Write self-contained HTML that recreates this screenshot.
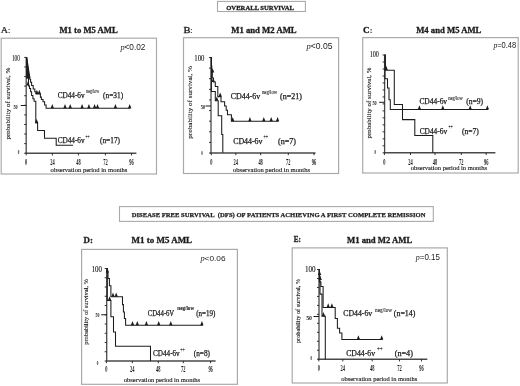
<!DOCTYPE html>
<html><head><meta charset="utf-8"><style>
html,body{margin:0;padding:0;background:#fff;}
body{width:520px;height:386px;overflow:hidden;}
svg{display:block;filter:blur(0.3px);}
</style></head><body>
<svg width="520" height="386" viewBox="0 0 520 386">
<rect width="520" height="386" fill="#fff"/>
<rect x="217.5" y="1.4" width="87.90" height="10.10" fill="none" stroke="#aaaaaa" stroke-width="1.1"/>
<text x="226.20" y="9.70" font-family='"Liberation Serif", serif' font-size="6.9" fill="#1c1c1c" font-weight="bold" stroke="#1c1c1c" stroke-width="0.3" textLength="67.80" lengthAdjust="spacingAndGlyphs">OVERALL SURVIVAL</text>
<text x="0.70" y="32.70" font-family='"Liberation Serif", serif' font-size="8.6" fill="#1c1c1c" stroke="#1c1c1c" stroke-width="0.2" textLength="7.30" lengthAdjust="spacingAndGlyphs">A</text>
<text x="7.90" y="32.70" font-family='"Liberation Serif", serif' font-size="8.4" fill="#1c1c1c" stroke="#1c1c1c" stroke-width="0.15">:</text>
<text x="59.40" y="33.00" font-family='"Liberation Serif", serif' font-size="8.3" fill="#1c1c1c" font-weight="bold" stroke="#1c1c1c" stroke-width="0.3" textLength="58.40" lengthAdjust="spacingAndGlyphs">M1 to M5 AML</text>
<text x="183.40" y="32.50" font-family='"Liberation Serif", serif' font-size="8.6" fill="#1c1c1c" stroke="#1c1c1c" stroke-width="0.3" textLength="7.00" lengthAdjust="spacingAndGlyphs">B</text>
<text x="190.20" y="32.50" font-family='"Liberation Serif", serif' font-size="8.4" fill="#1c1c1c" stroke="#1c1c1c" stroke-width="0.2">:</text>
<text x="231.20" y="32.80" font-family='"Liberation Serif", serif' font-size="8.3" fill="#1c1c1c" font-weight="bold" stroke="#1c1c1c" stroke-width="0.3" textLength="65.50" lengthAdjust="spacingAndGlyphs">M1 and M2 AML</text>
<text x="363.00" y="32.50" font-family='"Liberation Serif", serif' font-size="9.0" fill="#1c1c1c" font-weight="bold" stroke="#1c1c1c" stroke-width="0.3" textLength="6.60" lengthAdjust="spacingAndGlyphs">C</text>
<text x="369.80" y="32.50" font-family='"Liberation Serif", serif' font-size="8.2" fill="#1c1c1c" font-weight="bold">:</text>
<text x="416.20" y="33.00" font-family='"Liberation Serif", serif' font-size="8.3" fill="#1c1c1c" font-weight="bold" stroke="#1c1c1c" stroke-width="0.3" textLength="65.20" lengthAdjust="spacingAndGlyphs">M4 and M5 AML</text>
<rect x="1.2" y="38.2" width="155.30" height="135.80" fill="none" stroke="#aaaaaa" stroke-width="1.2"/>
<text x="120.40" y="49.50" fill="#1c1c1c" font-size="8.2" textLength="25.00" lengthAdjust="spacingAndGlyphs"><tspan font-family='"Liberation Serif", serif' font-style="italic">p</tspan><tspan font-family='"Liberation Sans", sans-serif'>&lt;0.02</tspan></text>
<line x1="26.20" y1="56.90" x2="26.20" y2="153.20" stroke="#4a4a4a" stroke-width="1.3"/>
<line x1="25.60" y1="153.20" x2="136.40" y2="153.20" stroke="#4a4a4a" stroke-width="1.5"/>
<line x1="24.20" y1="153.20" x2="26.20" y2="153.20" stroke="#1c1c1c" stroke-width="0.9"/>
<line x1="24.20" y1="143.62" x2="26.20" y2="143.62" stroke="#1c1c1c" stroke-width="0.9"/>
<line x1="24.20" y1="134.04" x2="26.20" y2="134.04" stroke="#1c1c1c" stroke-width="0.9"/>
<line x1="24.20" y1="124.46" x2="26.20" y2="124.46" stroke="#1c1c1c" stroke-width="0.9"/>
<line x1="24.20" y1="114.88" x2="26.20" y2="114.88" stroke="#1c1c1c" stroke-width="0.9"/>
<line x1="24.20" y1="105.30" x2="26.20" y2="105.30" stroke="#1c1c1c" stroke-width="0.9"/>
<line x1="24.20" y1="95.72" x2="26.20" y2="95.72" stroke="#1c1c1c" stroke-width="0.9"/>
<line x1="24.20" y1="86.14" x2="26.20" y2="86.14" stroke="#1c1c1c" stroke-width="0.9"/>
<line x1="24.20" y1="76.56" x2="26.20" y2="76.56" stroke="#1c1c1c" stroke-width="0.9"/>
<line x1="24.20" y1="66.98" x2="26.20" y2="66.98" stroke="#1c1c1c" stroke-width="0.9"/>
<line x1="24.20" y1="57.40" x2="26.20" y2="57.40" stroke="#1c1c1c" stroke-width="0.9"/>
<line x1="20.70" y1="105.50" x2="26.20" y2="105.50" stroke="#1c1c1c" stroke-width="1.0"/>
<line x1="26.20" y1="153.20" x2="26.20" y2="155.40" stroke="#1c1c1c" stroke-width="0.9"/>
<text x="25.10" y="164.70" font-family='"Liberation Serif", serif' font-size="7.8" fill="#1c1c1c" font-weight="bold" textLength="2.20" lengthAdjust="spacingAndGlyphs">0</text>
<line x1="52.40" y1="153.20" x2="52.40" y2="155.40" stroke="#1c1c1c" stroke-width="0.9"/>
<text x="50.20" y="164.70" font-family='"Liberation Serif", serif' font-size="7.8" fill="#1c1c1c" font-weight="bold" textLength="4.40" lengthAdjust="spacingAndGlyphs">24</text>
<line x1="78.40" y1="153.20" x2="78.40" y2="155.40" stroke="#1c1c1c" stroke-width="0.9"/>
<text x="76.20" y="164.70" font-family='"Liberation Serif", serif' font-size="7.8" fill="#1c1c1c" font-weight="bold" textLength="4.40" lengthAdjust="spacingAndGlyphs">48</text>
<line x1="105.40" y1="153.20" x2="105.40" y2="155.40" stroke="#1c1c1c" stroke-width="0.9"/>
<text x="103.20" y="164.70" font-family='"Liberation Serif", serif' font-size="7.8" fill="#1c1c1c" font-weight="bold" textLength="4.40" lengthAdjust="spacingAndGlyphs">72</text>
<line x1="131.50" y1="153.20" x2="131.50" y2="155.40" stroke="#1c1c1c" stroke-width="0.9"/>
<text x="129.30" y="164.70" font-family='"Liberation Serif", serif' font-size="7.8" fill="#1c1c1c" font-weight="bold" textLength="4.40" lengthAdjust="spacingAndGlyphs">96</text>
<text x="11.90" y="60.90" font-family='"Liberation Serif", serif' font-size="7.8" fill="#1c1c1c" stroke="#1c1c1c" stroke-width="0.15" textLength="7.90" lengthAdjust="spacingAndGlyphs">100</text>
<text x="13.40" y="108.90" font-family='"Liberation Serif", serif' font-size="7" fill="#1c1c1c" font-weight="bold" textLength="4.20" lengthAdjust="spacingAndGlyphs">50</text>
<text x="17.80" y="154.10" font-family='"Liberation Serif", serif' font-size="7" fill="#1c1c1c" font-weight="bold" textLength="1.60" lengthAdjust="spacingAndGlyphs">0</text>
<text x="50.60" y="171.80" font-family='"Liberation Serif", serif' font-size="7.0" fill="#1c1c1c" stroke="#1c1c1c" stroke-width="0.15" textLength="76.80" lengthAdjust="spacingAndGlyphs">observation period in months</text>
<text x="0" y="0" font-family='"Liberation Serif", serif' font-size="7.01958041958042" fill="#1c1c1c" stroke="#1c1c1c" stroke-width="0.12" text-anchor="middle" textLength="71.7" lengthAdjust="spacingAndGlyphs" transform="translate(10.0,103.6) rotate(-90)">probability of survival, %</text>
<path d="M26.2,57.4 H26.6 V60 H27 V63 H27.4 V66 H27.8 V69 H28.2 V72 H28.6 V75 H29.3 V77.5 H29.8 V79.2 H30.6 V82.3 H31.6 V85.4 H33.2 V89 H34.8 V91.7 H36 V94 H40.4 V97.1 H41.4 V99.4 H43 V101.8 H44.6 V104.9 H46.1 V108.3 H130.5" fill="none" stroke="#1c1c1c" stroke-width="1.05"/>
<path d="M26.2,57.4 L27.3,58 L30.3,77.5 L29.5,78.5 L26.5,78.5 Z" fill="#1c1c1c"/>
<path d="M35.25,94.00 L38.55,94.00 L36.90,89.80 Z" fill="#1c1c1c"/>
<path d="M37.65,94.00 L40.95,94.00 L39.30,89.80 Z" fill="#1c1c1c"/>
<path d="M50.65,108.30 L53.95,108.30 L52.30,104.10 Z" fill="#1c1c1c"/>
<path d="M63.35,108.30 L66.65,108.30 L65.00,104.10 Z" fill="#1c1c1c"/>
<path d="M68.55,108.30 L71.85,108.30 L70.20,104.10 Z" fill="#1c1c1c"/>
<path d="M80.45,108.30 L83.75,108.30 L82.10,104.10 Z" fill="#1c1c1c"/>
<path d="M87.25,108.30 L90.55,108.30 L88.90,104.10 Z" fill="#1c1c1c"/>
<path d="M92.95,108.30 L96.25,108.30 L94.60,104.10 Z" fill="#1c1c1c"/>
<path d="M95.85,108.30 L99.15,108.30 L97.50,104.10 Z" fill="#1c1c1c"/>
<path d="M113.75,108.30 L117.05,108.30 L115.40,104.10 Z" fill="#1c1c1c"/>
<path d="M128.05,108.30 L131.35,108.30 L129.70,104.10 Z" fill="#1c1c1c"/>
<path d="M26.2,57.4 H26.8 V78 H28.5 V86 H29.5 V88.5 H30.6 V91.7 H31.6 V95.5 H32.9 V98.7 H34.1 V101.3 H35.8 V123 H37.6 V130.5 H44.5 V138.2 H56.2 V145.3 H73.1" fill="none" stroke="#1c1c1c" stroke-width="1.05"/>
<path d="M26.35,85.50 L29.65,85.50 L28.00,81.30 Z" fill="#1c1c1c"/>
<path d="M34.95,123.00 L38.25,123.00 L36.60,118.80 Z" fill="#1c1c1c"/>
<text x="57.70" y="98.10" font-family='"Liberation Serif", serif' font-size="7.6" fill="#1c1c1c" stroke="#1c1c1c" stroke-width="0.25" textLength="26.90" lengthAdjust="spacingAndGlyphs">CD44-6v</text>
<text x="86.20" y="93.00" font-family='"Liberation Serif", serif' font-size="5.6" fill="#1c1c1c" stroke="#1c1c1c" stroke-width="0.1" textLength="13.00" lengthAdjust="spacingAndGlyphs">neg/low</text>
<text x="103.10" y="98.10" font-family='"Liberation Serif", serif' font-size="7.6" fill="#1c1c1c" stroke="#1c1c1c" stroke-width="0.25" textLength="20.00" lengthAdjust="spacingAndGlyphs">(n=31)</text>
<text x="57.70" y="143.10" font-family='"Liberation Serif", serif' font-size="7.6" fill="#1c1c1c" stroke="#1c1c1c" stroke-width="0.25" textLength="26.90" lengthAdjust="spacingAndGlyphs">CD44-6v</text>
<text x="85.40" y="139.40" font-family='"Liberation Serif", serif' font-size="5.6" fill="#1c1c1c" stroke="#1c1c1c" stroke-width="0.1" textLength="4.00" lengthAdjust="spacingAndGlyphs">++</text>
<text x="100.00" y="143.10" font-family='"Liberation Serif", serif' font-size="7.6" fill="#1c1c1c" stroke="#1c1c1c" stroke-width="0.25" textLength="20.00" lengthAdjust="spacingAndGlyphs">(n=17)</text>
<rect x="183.5" y="37.7" width="155.10" height="135.80" fill="none" stroke="#aaaaaa" stroke-width="1.2"/>
<text x="306.50" y="49.00" fill="#1c1c1c" font-size="8.2" textLength="26.00" lengthAdjust="spacingAndGlyphs"><tspan font-family='"Liberation Serif", serif' font-style="italic">p</tspan><tspan font-family='"Liberation Sans", sans-serif'>&lt;0.05</tspan></text>
<line x1="211.00" y1="57.00" x2="211.00" y2="153.00" stroke="#4a4a4a" stroke-width="1.3"/>
<line x1="210.40" y1="153.00" x2="315.50" y2="153.00" stroke="#4a4a4a" stroke-width="1.5"/>
<line x1="209.00" y1="153.00" x2="211.00" y2="153.00" stroke="#1c1c1c" stroke-width="0.9"/>
<line x1="209.00" y1="142.39" x2="211.00" y2="142.39" stroke="#1c1c1c" stroke-width="0.9"/>
<line x1="209.00" y1="131.78" x2="211.00" y2="131.78" stroke="#1c1c1c" stroke-width="0.9"/>
<line x1="209.00" y1="121.17" x2="211.00" y2="121.17" stroke="#1c1c1c" stroke-width="0.9"/>
<line x1="209.00" y1="110.56" x2="211.00" y2="110.56" stroke="#1c1c1c" stroke-width="0.9"/>
<line x1="209.00" y1="99.94" x2="211.00" y2="99.94" stroke="#1c1c1c" stroke-width="0.9"/>
<line x1="209.00" y1="89.33" x2="211.00" y2="89.33" stroke="#1c1c1c" stroke-width="0.9"/>
<line x1="209.00" y1="78.72" x2="211.00" y2="78.72" stroke="#1c1c1c" stroke-width="0.9"/>
<line x1="209.00" y1="68.11" x2="211.00" y2="68.11" stroke="#1c1c1c" stroke-width="0.9"/>
<line x1="209.00" y1="57.50" x2="211.00" y2="57.50" stroke="#1c1c1c" stroke-width="0.9"/>
<line x1="205.50" y1="106.00" x2="211.00" y2="106.00" stroke="#1c1c1c" stroke-width="1.0"/>
<line x1="211.30" y1="153.00" x2="211.30" y2="155.20" stroke="#1c1c1c" stroke-width="0.9"/>
<text x="210.20" y="164.70" font-family='"Liberation Serif", serif' font-size="7.8" fill="#1c1c1c" font-weight="bold" textLength="2.20" lengthAdjust="spacingAndGlyphs">0</text>
<line x1="235.80" y1="153.00" x2="235.80" y2="155.20" stroke="#1c1c1c" stroke-width="0.9"/>
<text x="233.60" y="164.70" font-family='"Liberation Serif", serif' font-size="7.8" fill="#1c1c1c" font-weight="bold" textLength="4.40" lengthAdjust="spacingAndGlyphs">24</text>
<line x1="260.60" y1="153.00" x2="260.60" y2="155.20" stroke="#1c1c1c" stroke-width="0.9"/>
<text x="258.40" y="164.70" font-family='"Liberation Serif", serif' font-size="7.8" fill="#1c1c1c" font-weight="bold" textLength="4.40" lengthAdjust="spacingAndGlyphs">48</text>
<line x1="288.30" y1="153.00" x2="288.30" y2="155.20" stroke="#1c1c1c" stroke-width="0.9"/>
<text x="286.10" y="164.70" font-family='"Liberation Serif", serif' font-size="7.8" fill="#1c1c1c" font-weight="bold" textLength="4.40" lengthAdjust="spacingAndGlyphs">72</text>
<line x1="314.00" y1="153.00" x2="314.00" y2="155.20" stroke="#1c1c1c" stroke-width="0.9"/>
<text x="311.80" y="164.70" font-family='"Liberation Serif", serif' font-size="7.8" fill="#1c1c1c" font-weight="bold" textLength="4.40" lengthAdjust="spacingAndGlyphs">96</text>
<text x="194.30" y="61.20" font-family='"Liberation Serif", serif' font-size="7.8" fill="#1c1c1c" stroke="#1c1c1c" stroke-width="0.15" textLength="10.10" lengthAdjust="spacingAndGlyphs">100</text>
<text x="200.80" y="109.10" font-family='"Liberation Serif", serif' font-size="7" fill="#1c1c1c" font-weight="bold" textLength="4.40" lengthAdjust="spacingAndGlyphs">50</text>
<text x="201.20" y="154.80" font-family='"Liberation Serif", serif' font-size="7" fill="#1c1c1c" font-weight="bold" textLength="1.60" lengthAdjust="spacingAndGlyphs">0</text>
<text x="233.00" y="171.80" font-family='"Liberation Serif", serif' font-size="7.0" fill="#1c1c1c" stroke="#1c1c1c" stroke-width="0.15" textLength="77.00" lengthAdjust="spacingAndGlyphs">observation period in months</text>
<text x="0" y="0" font-family='"Liberation Serif", serif' font-size="7.107692307692306" fill="#1c1c1c" stroke="#1c1c1c" stroke-width="0.12" text-anchor="middle" textLength="72.6" lengthAdjust="spacingAndGlyphs" transform="translate(192.0,102.4) rotate(-90)">probability of survival, %</text>
<path d="M211,57.5 H211.4 V66 H211.8 V72 H212.3 V78 H213.5 V82 H215.3 V86.5 H217.8 V96.6 H221 V101.8 H224.6 V105.9 H226.2 V110.2 H227.5 V114.7 H231.4 V121.3 H278.5" fill="none" stroke="#1c1c1c" stroke-width="1.05"/>
<path d="M210.95,72.50 L214.25,72.50 L212.60,68.30 Z" fill="#1c1c1c"/>
<path d="M211.55,82.00 L214.85,82.00 L213.20,77.80 Z" fill="#1c1c1c"/>
<path d="M218.55,96.60 L221.85,96.60 L220.20,92.40 Z" fill="#1c1c1c"/>
<path d="M231.05,121.30 L234.35,121.30 L232.70,117.10 Z" fill="#1c1c1c"/>
<path d="M248.25,121.30 L251.55,121.30 L249.90,117.10 Z" fill="#1c1c1c"/>
<path d="M262.15,121.30 L265.45,121.30 L263.80,117.10 Z" fill="#1c1c1c"/>
<path d="M269.55,121.30 L272.85,121.30 L271.20,117.10 Z" fill="#1c1c1c"/>
<path d="M275.95,121.30 L279.25,121.30 L277.60,117.10 Z" fill="#1c1c1c"/>
<path d="M211,57.5 H211.4 V91.4 H215.3 V100.7 H218.2 V115.8 H221.7 V134.5 H222.8 V152.8 H222.8" fill="none" stroke="#1c1c1c" stroke-width="1.05"/>
<path d="M215.15,100.70 L218.45,100.70 L216.80,96.50 Z" fill="#1c1c1c"/>
<text x="230.80" y="98.80" font-family='"Liberation Serif", serif' font-size="7.6" fill="#1c1c1c" stroke="#1c1c1c" stroke-width="0.25" textLength="29.30" lengthAdjust="spacingAndGlyphs">CD44-6v</text>
<text x="261.90" y="94.10" font-family='"Liberation Serif", serif' font-size="5.6" fill="#1c1c1c" stroke="#1c1c1c" stroke-width="0.1" textLength="15.40" lengthAdjust="spacingAndGlyphs">neg/low</text>
<text x="280.10" y="98.80" font-family='"Liberation Serif", serif' font-size="7.6" fill="#1c1c1c" stroke="#1c1c1c" stroke-width="0.25" textLength="21.80" lengthAdjust="spacingAndGlyphs">(n=21)</text>
<text x="233.20" y="143.50" font-family='"Liberation Serif", serif' font-size="7.6" fill="#1c1c1c" stroke="#1c1c1c" stroke-width="0.25" textLength="29.30" lengthAdjust="spacingAndGlyphs">CD44-6v</text>
<text x="263.50" y="138.80" font-family='"Liberation Serif", serif' font-size="5.6" fill="#1c1c1c" stroke="#1c1c1c" stroke-width="0.1" textLength="4.70" lengthAdjust="spacingAndGlyphs">++</text>
<text x="278.00" y="143.50" font-family='"Liberation Serif", serif' font-size="7.6" fill="#1c1c1c" stroke="#1c1c1c" stroke-width="0.25" textLength="18.00" lengthAdjust="spacingAndGlyphs">(n=7)</text>
<rect x="362.7" y="37.6" width="155.50" height="135.40" fill="none" stroke="#aaaaaa" stroke-width="1.2"/>
<text x="493.40" y="48.30" fill="#1c1c1c" font-size="8.2" textLength="22.80" lengthAdjust="spacingAndGlyphs"><tspan font-family='"Liberation Serif", serif' font-style="italic">p</tspan><tspan font-family='"Liberation Sans", sans-serif'>=0.48</tspan></text>
<line x1="384.60" y1="54.50" x2="384.60" y2="152.80" stroke="#4a4a4a" stroke-width="1.3"/>
<line x1="384.00" y1="152.80" x2="495.40" y2="152.80" stroke="#4a4a4a" stroke-width="1.5"/>
<line x1="382.60" y1="152.80" x2="384.60" y2="152.80" stroke="#1c1c1c" stroke-width="0.9"/>
<line x1="382.60" y1="145.81" x2="384.60" y2="145.81" stroke="#1c1c1c" stroke-width="0.9"/>
<line x1="382.60" y1="138.83" x2="384.60" y2="138.83" stroke="#1c1c1c" stroke-width="0.9"/>
<line x1="382.60" y1="131.84" x2="384.60" y2="131.84" stroke="#1c1c1c" stroke-width="0.9"/>
<line x1="382.60" y1="124.86" x2="384.60" y2="124.86" stroke="#1c1c1c" stroke-width="0.9"/>
<line x1="382.60" y1="117.87" x2="384.60" y2="117.87" stroke="#1c1c1c" stroke-width="0.9"/>
<line x1="382.60" y1="110.89" x2="384.60" y2="110.89" stroke="#1c1c1c" stroke-width="0.9"/>
<line x1="382.60" y1="103.90" x2="384.60" y2="103.90" stroke="#1c1c1c" stroke-width="0.9"/>
<line x1="382.60" y1="96.91" x2="384.60" y2="96.91" stroke="#1c1c1c" stroke-width="0.9"/>
<line x1="382.60" y1="89.93" x2="384.60" y2="89.93" stroke="#1c1c1c" stroke-width="0.9"/>
<line x1="382.60" y1="82.94" x2="384.60" y2="82.94" stroke="#1c1c1c" stroke-width="0.9"/>
<line x1="382.60" y1="75.96" x2="384.60" y2="75.96" stroke="#1c1c1c" stroke-width="0.9"/>
<line x1="382.60" y1="68.97" x2="384.60" y2="68.97" stroke="#1c1c1c" stroke-width="0.9"/>
<line x1="382.60" y1="61.99" x2="384.60" y2="61.99" stroke="#1c1c1c" stroke-width="0.9"/>
<line x1="382.60" y1="55.00" x2="384.60" y2="55.00" stroke="#1c1c1c" stroke-width="0.9"/>
<line x1="379.10" y1="102.30" x2="384.60" y2="102.30" stroke="#1c1c1c" stroke-width="1.0"/>
<line x1="384.40" y1="152.80" x2="384.40" y2="155.00" stroke="#1c1c1c" stroke-width="0.9"/>
<text x="383.30" y="164.60" font-family='"Liberation Serif", serif' font-size="7.8" fill="#1c1c1c" font-weight="bold" textLength="2.20" lengthAdjust="spacingAndGlyphs">0</text>
<line x1="410.50" y1="152.80" x2="410.50" y2="155.00" stroke="#1c1c1c" stroke-width="0.9"/>
<text x="408.30" y="164.60" font-family='"Liberation Serif", serif' font-size="7.8" fill="#1c1c1c" font-weight="bold" textLength="4.40" lengthAdjust="spacingAndGlyphs">24</text>
<line x1="435.00" y1="152.80" x2="435.00" y2="155.00" stroke="#1c1c1c" stroke-width="0.9"/>
<text x="432.80" y="164.60" font-family='"Liberation Serif", serif' font-size="7.8" fill="#1c1c1c" font-weight="bold" textLength="4.40" lengthAdjust="spacingAndGlyphs">48</text>
<line x1="461.30" y1="152.80" x2="461.30" y2="155.00" stroke="#1c1c1c" stroke-width="0.9"/>
<text x="459.10" y="164.60" font-family='"Liberation Serif", serif' font-size="7.8" fill="#1c1c1c" font-weight="bold" textLength="4.40" lengthAdjust="spacingAndGlyphs">72</text>
<line x1="486.20" y1="152.80" x2="486.20" y2="155.00" stroke="#1c1c1c" stroke-width="0.9"/>
<text x="484.00" y="164.60" font-family='"Liberation Serif", serif' font-size="7.8" fill="#1c1c1c" font-weight="bold" textLength="4.40" lengthAdjust="spacingAndGlyphs">96</text>
<text x="369.70" y="56.90" font-family='"Liberation Serif", serif' font-size="7.8" fill="#1c1c1c" stroke="#1c1c1c" stroke-width="0.15" textLength="9.20" lengthAdjust="spacingAndGlyphs">100</text>
<text x="372.40" y="104.70" font-family='"Liberation Serif", serif' font-size="7" fill="#1c1c1c" font-weight="bold" textLength="4.20" lengthAdjust="spacingAndGlyphs">50</text>
<text x="374.60" y="153.80" font-family='"Liberation Serif", serif' font-size="7" fill="#1c1c1c" font-weight="bold" textLength="1.60" lengthAdjust="spacingAndGlyphs">0</text>
<text x="410.70" y="170.40" font-family='"Liberation Serif", serif' font-size="7.0" fill="#1c1c1c" stroke="#1c1c1c" stroke-width="0.15" textLength="76.30" lengthAdjust="spacingAndGlyphs">observation period in months</text>
<text x="0" y="0" font-family='"Liberation Serif", serif' font-size="6.96083916083916" fill="#1c1c1c" stroke="#1c1c1c" stroke-width="0.12" text-anchor="middle" textLength="71.1" lengthAdjust="spacingAndGlyphs" transform="translate(370.6,103.0) rotate(-90)">probability of survival, %</text>
<path d="M384.6,55 H385 V78.8 H387.5 V88 H389 V99.8 H390.3 V109.5 H488" fill="none" stroke="#1c1c1c" stroke-width="1.05"/>
<path d="M384.55,70.00 L387.85,70.00 L386.20,65.80 Z" fill="#1c1c1c"/>
<path d="M417.75,109.50 L421.05,109.50 L419.40,105.30 Z" fill="#1c1c1c"/>
<path d="M441.15,109.50 L444.45,109.50 L442.80,105.30 Z" fill="#1c1c1c"/>
<path d="M468.55,109.50 L471.85,109.50 L470.20,105.30 Z" fill="#1c1c1c"/>
<path d="M485.75,109.50 L489.05,109.50 L487.40,105.30 Z" fill="#1c1c1c"/>
<path d="M384.6,55 H385.4 V70.2 H394.3 V104.4 H402.5 V119.6 H414.8 V135.5 H432.8 V152.8 H432.8" fill="none" stroke="#1c1c1c" stroke-width="1.05"/>
<text x="419.40" y="104.00" font-family='"Liberation Serif", serif' font-size="7.6" fill="#1c1c1c" stroke="#1c1c1c" stroke-width="0.25" textLength="27.70" lengthAdjust="spacingAndGlyphs">CD44-6v</text>
<text x="448.20" y="100.00" font-family='"Liberation Serif", serif' font-size="5.6" fill="#1c1c1c" stroke="#1c1c1c" stroke-width="0.1" textLength="14.60" lengthAdjust="spacingAndGlyphs">neg/low</text>
<text x="466.20" y="104.00" font-family='"Liberation Serif", serif' font-size="7.6" fill="#1c1c1c" stroke="#1c1c1c" stroke-width="0.25" textLength="16.90" lengthAdjust="spacingAndGlyphs">(n=9)</text>
<text x="419.70" y="133.50" font-family='"Liberation Serif", serif' font-size="7.6" fill="#1c1c1c" stroke="#1c1c1c" stroke-width="0.25" textLength="27.40" lengthAdjust="spacingAndGlyphs">CD44-6v</text>
<text x="448.60" y="128.80" font-family='"Liberation Serif", serif' font-size="5.6" fill="#1c1c1c" stroke="#1c1c1c" stroke-width="0.1" textLength="4.20" lengthAdjust="spacingAndGlyphs">++</text>
<text x="462.00" y="133.50" font-family='"Liberation Serif", serif' font-size="7.6" fill="#1c1c1c" stroke="#1c1c1c" stroke-width="0.25" textLength="16.90" lengthAdjust="spacingAndGlyphs">(n=7)</text>
<rect x="119.5" y="206.6" width="313.80" height="14.80" fill="none" stroke="#aaaaaa" stroke-width="1.1"/>
<text x="131.70" y="217.30" font-family='"Liberation Serif", serif' font-size="6.8" fill="#1c1c1c" font-weight="bold" stroke="#1c1c1c" stroke-width="0.25" textLength="293.80" lengthAdjust="spacingAndGlyphs">DISEASE FREE SURVIVAL&#160; (DFS) OF PATIENTS ACHIEVING A FIRST COMPLETE REMISSION</text>
<text x="83.60" y="242.90" font-family='"Liberation Serif", serif' font-size="8.8" fill="#1c1c1c" font-weight="bold" stroke="#1c1c1c" stroke-width="0.3" textLength="9.40" lengthAdjust="spacingAndGlyphs">D:</text>
<text x="131.60" y="242.50" font-family='"Liberation Serif", serif' font-size="8.5" fill="#1c1c1c" font-weight="bold" stroke="#1c1c1c" stroke-width="0.3" textLength="60.50" lengthAdjust="spacingAndGlyphs">M1 to M5 AML</text>
<text x="293.70" y="241.90" font-family='"Liberation Serif", serif' font-size="8.2" fill="#1c1c1c" font-weight="bold" stroke="#1c1c1c" stroke-width="0.3" textLength="7.20" lengthAdjust="spacingAndGlyphs">E:</text>
<text x="347.00" y="242.60" font-family='"Liberation Serif", serif' font-size="8.3" fill="#1c1c1c" font-weight="bold" stroke="#1c1c1c" stroke-width="0.3" textLength="65.30" lengthAdjust="spacingAndGlyphs">M1 and M2 AML</text>
<rect x="81.6" y="249.4" width="155.80" height="134.90" fill="none" stroke="#aaaaaa" stroke-width="1.2"/>
<text x="200.40" y="261.30" fill="#1c1c1c" font-size="7.4" textLength="25.20" lengthAdjust="spacingAndGlyphs"><tspan font-family='"Liberation Serif", serif' font-style="italic">p</tspan><tspan font-family='"Liberation Sans", sans-serif'>&lt;0.06</tspan></text>
<line x1="106.70" y1="268.00" x2="106.70" y2="361.00" stroke="#4a4a4a" stroke-width="1.3"/>
<line x1="106.10" y1="361.00" x2="215.60" y2="361.00" stroke="#4a4a4a" stroke-width="1.5"/>
<line x1="104.70" y1="361.00" x2="106.70" y2="361.00" stroke="#1c1c1c" stroke-width="0.9"/>
<line x1="104.70" y1="351.75" x2="106.70" y2="351.75" stroke="#1c1c1c" stroke-width="0.9"/>
<line x1="104.70" y1="342.50" x2="106.70" y2="342.50" stroke="#1c1c1c" stroke-width="0.9"/>
<line x1="104.70" y1="333.25" x2="106.70" y2="333.25" stroke="#1c1c1c" stroke-width="0.9"/>
<line x1="104.70" y1="324.00" x2="106.70" y2="324.00" stroke="#1c1c1c" stroke-width="0.9"/>
<line x1="104.70" y1="314.75" x2="106.70" y2="314.75" stroke="#1c1c1c" stroke-width="0.9"/>
<line x1="104.70" y1="305.50" x2="106.70" y2="305.50" stroke="#1c1c1c" stroke-width="0.9"/>
<line x1="104.70" y1="296.25" x2="106.70" y2="296.25" stroke="#1c1c1c" stroke-width="0.9"/>
<line x1="104.70" y1="287.00" x2="106.70" y2="287.00" stroke="#1c1c1c" stroke-width="0.9"/>
<line x1="104.70" y1="277.75" x2="106.70" y2="277.75" stroke="#1c1c1c" stroke-width="0.9"/>
<line x1="104.70" y1="268.50" x2="106.70" y2="268.50" stroke="#1c1c1c" stroke-width="0.9"/>
<line x1="101.20" y1="314.80" x2="106.70" y2="314.80" stroke="#1c1c1c" stroke-width="1.0"/>
<line x1="106.40" y1="361.00" x2="106.40" y2="363.20" stroke="#1c1c1c" stroke-width="0.9"/>
<text x="105.30" y="372.30" font-family='"Liberation Serif", serif' font-size="7.8" fill="#1c1c1c" font-weight="bold" textLength="2.20" lengthAdjust="spacingAndGlyphs">0</text>
<line x1="132.30" y1="361.00" x2="132.30" y2="363.20" stroke="#1c1c1c" stroke-width="0.9"/>
<text x="130.10" y="372.30" font-family='"Liberation Serif", serif' font-size="7.8" fill="#1c1c1c" font-weight="bold" textLength="4.40" lengthAdjust="spacingAndGlyphs">24</text>
<line x1="158.30" y1="361.00" x2="158.30" y2="363.20" stroke="#1c1c1c" stroke-width="0.9"/>
<text x="156.10" y="372.30" font-family='"Liberation Serif", serif' font-size="7.8" fill="#1c1c1c" font-weight="bold" textLength="4.40" lengthAdjust="spacingAndGlyphs">48</text>
<line x1="183.30" y1="361.00" x2="183.30" y2="363.20" stroke="#1c1c1c" stroke-width="0.9"/>
<text x="181.10" y="372.30" font-family='"Liberation Serif", serif' font-size="7.8" fill="#1c1c1c" font-weight="bold" textLength="4.40" lengthAdjust="spacingAndGlyphs">72</text>
<line x1="210.60" y1="361.00" x2="210.60" y2="363.20" stroke="#1c1c1c" stroke-width="0.9"/>
<text x="208.40" y="372.30" font-family='"Liberation Serif", serif' font-size="7.8" fill="#1c1c1c" font-weight="bold" textLength="4.40" lengthAdjust="spacingAndGlyphs">96</text>
<text x="91.70" y="271.50" font-family='"Liberation Serif", serif' font-size="7.8" fill="#1c1c1c" stroke="#1c1c1c" stroke-width="0.15" textLength="10.30" lengthAdjust="spacingAndGlyphs">100</text>
<text x="95.50" y="317.00" font-family='"Liberation Serif", serif' font-size="7" fill="#1c1c1c" font-weight="bold" textLength="3.90" lengthAdjust="spacingAndGlyphs">50</text>
<text x="96.80" y="364.90" font-family='"Liberation Serif", serif' font-size="7" fill="#1c1c1c" font-weight="bold" textLength="1.60" lengthAdjust="spacingAndGlyphs">0</text>
<text x="123.80" y="381.90" font-family='"Liberation Serif", serif' font-size="7.0" fill="#1c1c1c" stroke="#1c1c1c" stroke-width="0.15" textLength="76.20" lengthAdjust="spacingAndGlyphs">observation period in months</text>
<text x="0" y="0" font-family='"Liberation Serif", serif' font-size="6.432167832167831" fill="#1c1c1c" stroke="#1c1c1c" stroke-width="0.12" text-anchor="middle" textLength="65.69999999999999" lengthAdjust="spacingAndGlyphs" transform="translate(88.4,311.9) rotate(-90)">probability of survival, %</text>
<path d="M106.7,268.5 H107.3 V272 H108 V278.5 H109.4 V285.7 H110.9 V296.8 H122.5 V304.6 H123.4 V311.9 H124.4 V318.5 H125.6 V325.3 H202.8" fill="none" stroke="#1c1c1c" stroke-width="1.05"/>
<path d="M105.75,272.50 L109.05,272.50 L107.40,268.30 Z" fill="#1c1c1c"/>
<path d="M111.35,296.80 L114.65,296.80 L113.00,292.60 Z" fill="#1c1c1c"/>
<path d="M114.55,296.80 L117.85,296.80 L116.20,292.60 Z" fill="#1c1c1c"/>
<path d="M130.85,325.30 L134.15,325.30 L132.50,321.10 Z" fill="#1c1c1c"/>
<path d="M135.65,325.30 L138.95,325.30 L137.30,321.10 Z" fill="#1c1c1c"/>
<path d="M144.75,325.30 L148.05,325.30 L146.40,321.10 Z" fill="#1c1c1c"/>
<path d="M157.05,325.30 L160.35,325.30 L158.70,321.10 Z" fill="#1c1c1c"/>
<path d="M169.15,325.30 L172.45,325.30 L170.80,321.10 Z" fill="#1c1c1c"/>
<path d="M200.25,325.30 L203.55,325.30 L201.90,321.10 Z" fill="#1c1c1c"/>
<path d="M106.7,268.5 H107.3 V300.5 H110.9 V316.8 H113.5 V332 H115.5 V346.2 H150.5 V361 H150.5" fill="none" stroke="#1c1c1c" stroke-width="1.05"/>
<path d="M107.95,300.50 L111.25,300.50 L109.60,296.30 Z" fill="#1c1c1c"/>
<text x="147.70" y="316.20" font-family='"Liberation Serif", serif' font-size="7.6" fill="#1c1c1c" stroke="#1c1c1c" stroke-width="0.25" textLength="26.50" lengthAdjust="spacingAndGlyphs">CD44-6V</text>
<text x="177.30" y="309.90" font-family='"Liberation Serif", serif' font-size="5.6" fill="#1c1c1c" font-weight="bold" stroke="#1c1c1c" stroke-width="0.1" textLength="16.80" lengthAdjust="spacingAndGlyphs">neg/low</text>
<text x="196.20" y="316.20" font-family='"Liberation Serif", serif' font-size="7.6" fill="#1c1c1c" stroke="#1c1c1c" stroke-width="0.25" textLength="19.20" lengthAdjust="spacingAndGlyphs">(n=19)</text>
<text x="153.10" y="355.80" font-family='"Liberation Serif", serif' font-size="7.6" fill="#1c1c1c" stroke="#1c1c1c" stroke-width="0.25" textLength="26.60" lengthAdjust="spacingAndGlyphs">CD44-6v</text>
<text x="180.30" y="351.90" font-family='"Liberation Serif", serif' font-size="5.6" fill="#1c1c1c" stroke="#1c1c1c" stroke-width="0.1" textLength="4.50" lengthAdjust="spacingAndGlyphs">++</text>
<text x="193.80" y="355.80" font-family='"Liberation Serif", serif' font-size="7.6" fill="#1c1c1c" stroke="#1c1c1c" stroke-width="0.25" textLength="16.20" lengthAdjust="spacingAndGlyphs">(n=8)</text>
<rect x="292.2" y="247.9" width="155.10" height="135.10" fill="none" stroke="#aaaaaa" stroke-width="1.2"/>
<text x="415.70" y="259.80" fill="#1c1c1c" font-size="8.2" textLength="24.30" lengthAdjust="spacingAndGlyphs"><tspan font-family='"Liberation Serif", serif' font-style="italic">p</tspan><tspan font-family='"Liberation Sans", sans-serif'>=0.15</tspan></text>
<line x1="319.00" y1="269.00" x2="319.00" y2="359.20" stroke="#4a4a4a" stroke-width="1.3"/>
<line x1="318.40" y1="359.20" x2="427.30" y2="359.20" stroke="#4a4a4a" stroke-width="1.5"/>
<line x1="317.00" y1="359.20" x2="319.00" y2="359.20" stroke="#1c1c1c" stroke-width="0.9"/>
<line x1="317.00" y1="350.23" x2="319.00" y2="350.23" stroke="#1c1c1c" stroke-width="0.9"/>
<line x1="317.00" y1="341.26" x2="319.00" y2="341.26" stroke="#1c1c1c" stroke-width="0.9"/>
<line x1="317.00" y1="332.29" x2="319.00" y2="332.29" stroke="#1c1c1c" stroke-width="0.9"/>
<line x1="317.00" y1="323.32" x2="319.00" y2="323.32" stroke="#1c1c1c" stroke-width="0.9"/>
<line x1="317.00" y1="314.35" x2="319.00" y2="314.35" stroke="#1c1c1c" stroke-width="0.9"/>
<line x1="317.00" y1="305.38" x2="319.00" y2="305.38" stroke="#1c1c1c" stroke-width="0.9"/>
<line x1="317.00" y1="296.41" x2="319.00" y2="296.41" stroke="#1c1c1c" stroke-width="0.9"/>
<line x1="317.00" y1="287.44" x2="319.00" y2="287.44" stroke="#1c1c1c" stroke-width="0.9"/>
<line x1="317.00" y1="278.47" x2="319.00" y2="278.47" stroke="#1c1c1c" stroke-width="0.9"/>
<line x1="317.00" y1="269.50" x2="319.00" y2="269.50" stroke="#1c1c1c" stroke-width="0.9"/>
<line x1="313.50" y1="316.50" x2="319.00" y2="316.50" stroke="#1c1c1c" stroke-width="1.0"/>
<line x1="318.80" y1="359.20" x2="318.80" y2="361.40" stroke="#1c1c1c" stroke-width="0.9"/>
<text x="317.70" y="370.80" font-family='"Liberation Serif", serif' font-size="7.8" fill="#1c1c1c" font-weight="bold" textLength="2.20" lengthAdjust="spacingAndGlyphs">0</text>
<line x1="342.80" y1="359.20" x2="342.80" y2="361.40" stroke="#1c1c1c" stroke-width="0.9"/>
<text x="340.60" y="370.80" font-family='"Liberation Serif", serif' font-size="7.8" fill="#1c1c1c" font-weight="bold" textLength="4.40" lengthAdjust="spacingAndGlyphs">24</text>
<line x1="372.20" y1="359.20" x2="372.20" y2="361.40" stroke="#1c1c1c" stroke-width="0.9"/>
<text x="370.00" y="370.80" font-family='"Liberation Serif", serif' font-size="7.8" fill="#1c1c1c" font-weight="bold" textLength="4.40" lengthAdjust="spacingAndGlyphs">48</text>
<line x1="399.50" y1="359.20" x2="399.50" y2="361.40" stroke="#1c1c1c" stroke-width="0.9"/>
<text x="397.30" y="370.80" font-family='"Liberation Serif", serif' font-size="7.8" fill="#1c1c1c" font-weight="bold" textLength="4.40" lengthAdjust="spacingAndGlyphs">72</text>
<line x1="421.50" y1="359.20" x2="421.50" y2="361.40" stroke="#1c1c1c" stroke-width="0.9"/>
<text x="419.30" y="370.80" font-family='"Liberation Serif", serif' font-size="7.8" fill="#1c1c1c" font-weight="bold" textLength="4.40" lengthAdjust="spacingAndGlyphs">96</text>
<text x="305.00" y="271.70" font-family='"Liberation Serif", serif' font-size="7.8" fill="#1c1c1c" stroke="#1c1c1c" stroke-width="0.15" textLength="10.60" lengthAdjust="spacingAndGlyphs">100</text>
<text x="306.20" y="319.80" font-family='"Liberation Serif", serif' font-size="7" fill="#1c1c1c" font-weight="bold" textLength="5.80" lengthAdjust="spacingAndGlyphs">50</text>
<text x="310.50" y="360.40" font-family='"Liberation Serif", serif' font-size="7" fill="#1c1c1c" font-weight="bold" textLength="1.60" lengthAdjust="spacingAndGlyphs">0</text>
<text x="341.20" y="381.20" font-family='"Liberation Serif", serif' font-size="7.0" fill="#1c1c1c" stroke="#1c1c1c" stroke-width="0.15" textLength="76.00" lengthAdjust="spacingAndGlyphs">observation period in months</text>
<text x="0" y="0" font-family='"Liberation Serif", serif' font-size="6.2755244755244775" fill="#1c1c1c" stroke="#1c1c1c" stroke-width="0.12" text-anchor="middle" textLength="64.10000000000002" lengthAdjust="spacingAndGlyphs" transform="translate(299.8,311.0) rotate(-90)">probability of survival, %</text>
<path d="M319,269.5 H319.4 V276 H319.8 V282 H320.9 V286.4 H323.1 V307.4 H335.2 V318.4 H337.4 V328.3 H339.6 V333 H341.9 V339.4 H382.6" fill="none" stroke="#1c1c1c" stroke-width="1.05"/>
<path d="M317.95,275.00 L321.25,275.00 L319.60,270.80 Z" fill="#1c1c1c"/>
<path d="M318.55,280.00 L321.85,280.00 L320.20,275.80 Z" fill="#1c1c1c"/>
<path d="M326.55,307.40 L329.85,307.40 L328.20,303.20 Z" fill="#1c1c1c"/>
<path d="M330.25,307.40 L333.55,307.40 L331.90,303.20 Z" fill="#1c1c1c"/>
<path d="M356.75,339.40 L360.05,339.40 L358.40,335.20 Z" fill="#1c1c1c"/>
<path d="M380.05,339.40 L383.35,339.40 L381.70,335.20 Z" fill="#1c1c1c"/>
<path d="M319,269.5 H319.4 V281 H320 V294.1 H322 V316.2 H325.3 V359.2 H325.3" fill="none" stroke="#1c1c1c" stroke-width="1.05"/>
<path d="M321.85,316.20 L325.15,316.20 L323.50,312.00 Z" fill="#1c1c1c"/>
<text x="343.30" y="316.40" font-family='"Liberation Serif", serif' font-size="7.6" fill="#1c1c1c" stroke="#1c1c1c" stroke-width="0.25" textLength="28.90" lengthAdjust="spacingAndGlyphs">CD44-6v</text>
<text x="375.10" y="311.70" font-family='"Liberation Serif", serif' font-size="5.6" fill="#1c1c1c" stroke="#1c1c1c" stroke-width="0.1" textLength="17.00" lengthAdjust="spacingAndGlyphs">neg/low</text>
<text x="393.80" y="316.40" font-family='"Liberation Serif", serif' font-size="7.6" fill="#1c1c1c" stroke="#1c1c1c" stroke-width="0.25" textLength="21.60" lengthAdjust="spacingAndGlyphs">(n=14)</text>
<text x="346.20" y="356.10" font-family='"Liberation Serif", serif' font-size="7.6" fill="#1c1c1c" stroke="#1c1c1c" stroke-width="0.25" textLength="28.90" lengthAdjust="spacingAndGlyphs">CD44-6v</text>
<text x="377.00" y="351.10" font-family='"Liberation Serif", serif' font-size="5.6" fill="#1c1c1c" stroke="#1c1c1c" stroke-width="0.1" textLength="5.60" lengthAdjust="spacingAndGlyphs">++</text>
<text x="394.70" y="356.10" font-family='"Liberation Serif", serif' font-size="7.6" fill="#1c1c1c" stroke="#1c1c1c" stroke-width="0.25" textLength="18.20" lengthAdjust="spacingAndGlyphs">(n=4)</text>
</svg>
</body></html>
